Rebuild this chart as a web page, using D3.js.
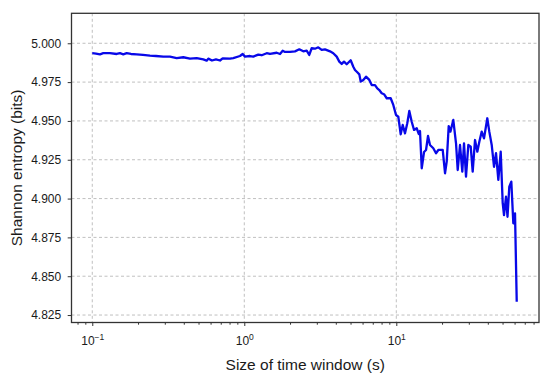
<!DOCTYPE html>
<html>
<head>
<meta charset="utf-8">
<script src="https://cdn.jsdelivr.net/npm/d3@7"></script>
<style>
  body { margin: 0; background: #fff; }
  svg { font-family: "Liberation Sans", Arial, sans-serif; }
</style>
</head>
<body>
<svg id="chart" width="550" height="375"></svg>
<script>
// window sizes (s)
var windowSize = [0.1, 0.1058, 0.1124, 0.1181, 0.1307, 0.1447, 0.1521, 0.1599, 0.1684, 0.1797,
  0.196, 0.2156, 0.2397, 0.2625, 0.2932, 0.3245, 0.3592, 0.397, 0.4393, 0.4862,
  0.5374, 0.5657, 0.5797, 0.6131, 0.6513, 0.6919, 0.7208, 0.8052, 0.8465, 0.9369,
  0.9761, 1.0107, 1.09, 1.146, 1.236, 1.302, 1.404, 1.476, 1.634, 1.718,
  1.789, 1.853, 1.999, 2.156, 2.301, 2.444, 2.573, 2.676, 2.775, 2.918,
  3.068, 3.23, 3.395, 3.663, 3.85, 4.054, 4.217, 4.374, 4.529, 4.718,
  5.012, 5.213, 5.349, 5.539, 5.71, 5.833, 6.067, 6.321, 6.645, 6.891,
  7.243, 7.499, 7.73, 8.016, 8.301, 8.648, 9.188, 9.557, 9.954, 10.31,
  10.69, 11.02, 11.41, 11.81, 12.18, 12.63, 13.08, 13.62, 14.04, 14.32,
  14.7, 15.22, 15.69, 16.17, 16.66, 17.52, 18.25, 18.9, 20.2, 20.92,
  21.46, 22.12, 22.7, 23.71, 24.71, 25.35, 26.25, 27.18, 27.89, 28.75,
  29.77, 30.87, 31.81, 32.95, 34.12, 35.17, 36.47, 37.76, 39.69, 40.91,
  42.43, 43.94, 45.29, 46.91, 48.63, 50.12, 51.12, 52.69, 53.9, 55.39,
  57.1, 58.86, 60.39, 61.98];

// Shannon entropy (bits)
var entropy = [4.9936, 4.9934, 4.9929, 4.9936, 4.9936, 4.9931, 4.9936, 4.9929, 4.9936, 4.9931,
  4.9929, 4.9925, 4.992, 4.9918, 4.9914, 4.9914, 4.9905, 4.991, 4.9901, 4.9905,
  4.9896, 4.9888, 4.9901, 4.9889, 4.9896, 4.9889, 4.9903, 4.9901, 4.9905, 4.9918,
  4.9931, 4.9914, 4.9918, 4.9914, 4.9927, 4.9923, 4.9936, 4.9931, 4.9939, 4.9931,
  4.9952, 4.9944, 4.9944, 4.9948, 4.9961, 4.9948, 4.9952, 4.9925, 4.9968, 4.9965,
  4.9974, 4.9957, 4.9961, 4.9948, 4.9936, 4.9914, 4.9882, 4.9867, 4.9882, 4.9865,
  4.9891, 4.9849, 4.9828, 4.9813, 4.98, 4.9753, 4.9764, 4.9785, 4.9764, 4.9731,
  4.9731, 4.971, 4.9699, 4.9678, 4.9672, 4.9646, 4.9646, 4.9603, 4.9538, 4.9527,
  4.9414, 4.9474, 4.942, 4.9485, 4.9564, 4.9495, 4.9442, 4.9453, 4.9416, 4.9435,
  4.9195, 4.93, 4.9313, 4.9403, 4.9345, 4.9324, 4.9292, 4.9313, 4.9313, 4.9163,
  4.9238, 4.9467, 4.9431, 4.9506, 4.9356, 4.9184, 4.9345, 4.9173, 4.9356, 4.9141,
  4.9345, 4.9334, 4.9173, 4.9377, 4.9302, 4.9366, 4.9431, 4.9388, 4.9517, 4.9431,
  4.9345, 4.9205, 4.9292, 4.912, 4.9302, 4.897, 4.8894, 4.9012, 4.8883, 4.9077,
  4.9109, 4.8841, 4.8905, 4.8336];

var xTicks = [0.1, 1, 10];
var xTickExp = ["\u22121", "0", "1"];
var xMinor = [0.08, 0.09, 0.2, 0.3, 0.4, 0.5, 0.6, 0.7, 0.8, 0.9,
  2, 3, 4, 5, 6, 7, 8, 9, 20, 30, 40, 50, 60, 70, 80];
var yTicks = [4.825, 4.85, 4.875, 4.9, 4.925, 4.95, 4.975, 5.0];

var margin = {top: 13.3, right: 11, bottom: 52.5, left: 71.5};
var width = 550 - margin.left - margin.right,
    height = 375 - margin.top - margin.bottom;

var svg = d3.select('#chart');
var g = svg.append('g')
    .attr('transform', 'translate(' + margin.left + ',' + margin.top + ')');

var x = d3.scaleLog().domain([0.073, 86.85]).range([0, width]);
var y = d3.scaleLinear().domain([4.8202, 5.0193]).range([height, 0]);

// grid
g.append('g').selectAll('line').data(xTicks).enter().append('line')
    .attr('x1', function(d) { return x(d); })
    .attr('x2', function(d) { return x(d); })
    .attr('y1', 0).attr('y2', height);
g.append('g').selectAll('line').data(yTicks).enter().append('line')
    .attr('x1', 0).attr('x2', width)
    .attr('y1', function(d) { return y(d); })
    .attr('y2', function(d) { return y(d); });
g.selectAll('line')
    .attr('stroke', '#b0b0b0')
    .attr('stroke-width', 0.8)
    .attr('stroke-dasharray', '3,2.5');

// line
var line = d3.line()
    .x(function(d, i) { return x(windowSize[i]); })
    .y(function(d) { return y(d); });

g.append('path')
    .datum(entropy)
    .attr('d', line)
    .attr('fill', 'none')
    .attr('stroke', '#0808e8')
    .attr('stroke-width', 2.3)
    .attr('stroke-linejoin', 'round');

// axes
var xAxis = g.append('g')
    .attr('transform', 'translate(0,' + height + ')')
    .call(d3.axisBottom(x).tickValues(xTicks).tickSize(3.5).tickPadding(6).tickFormat(''));
xAxis.selectAll('.tick text').each(function(d, i) {
  var t = d3.select(this);
  t.append('tspan').text('10');
  t.append('tspan').attr('dy', '-0.55em').attr('font-size', '8.5px').text(xTickExp[i]);
});
xAxis.selectAll('.tick text').attr('dy', '1.05em');

var xMinorAxis = g.append('g')
    .attr('transform', 'translate(0,' + height + ')')
    .call(d3.axisBottom(x).tickValues(xMinor).tickSize(2.2).tickFormat(''));

var yAxis = g.append('g')
    .call(d3.axisLeft(y).tickValues(yTicks).tickSize(3.8).tickPadding(6.5).tickFormat(d3.format('.3f')));

svg.selectAll('.domain').remove();
svg.selectAll('.tick line').attr('stroke', '#333').attr('stroke-width', 1);
svg.selectAll('.tick text').attr('fill', '#1a1a1a').attr('font-size', '12px')
    .attr('font-family', '"Liberation Sans", Arial, sans-serif');

// frame
g.append('rect')
    .attr('width', width).attr('height', height)
    .attr('fill', 'none')
    .attr('stroke', '#333')
    .attr('stroke-width', 1.3);

// labels
svg.append('text')
    .attr('x', margin.left + width / 2)
    .attr('y', 370)
    .attr('text-anchor', 'middle')
    .attr('font-size', '15.5px')
    .attr('fill', '#1a1a1a')
    .text('Size of time window (s)');

svg.append('text')
    .attr('transform', 'translate(22,' + (margin.top + height / 2) + ') rotate(-90)')
    .attr('text-anchor', 'middle')
    .attr('font-size', '15.5px')
    .attr('fill', '#1a1a1a')
    .text('Shannon entropy (bits)');
</script>
</body>
</html>
